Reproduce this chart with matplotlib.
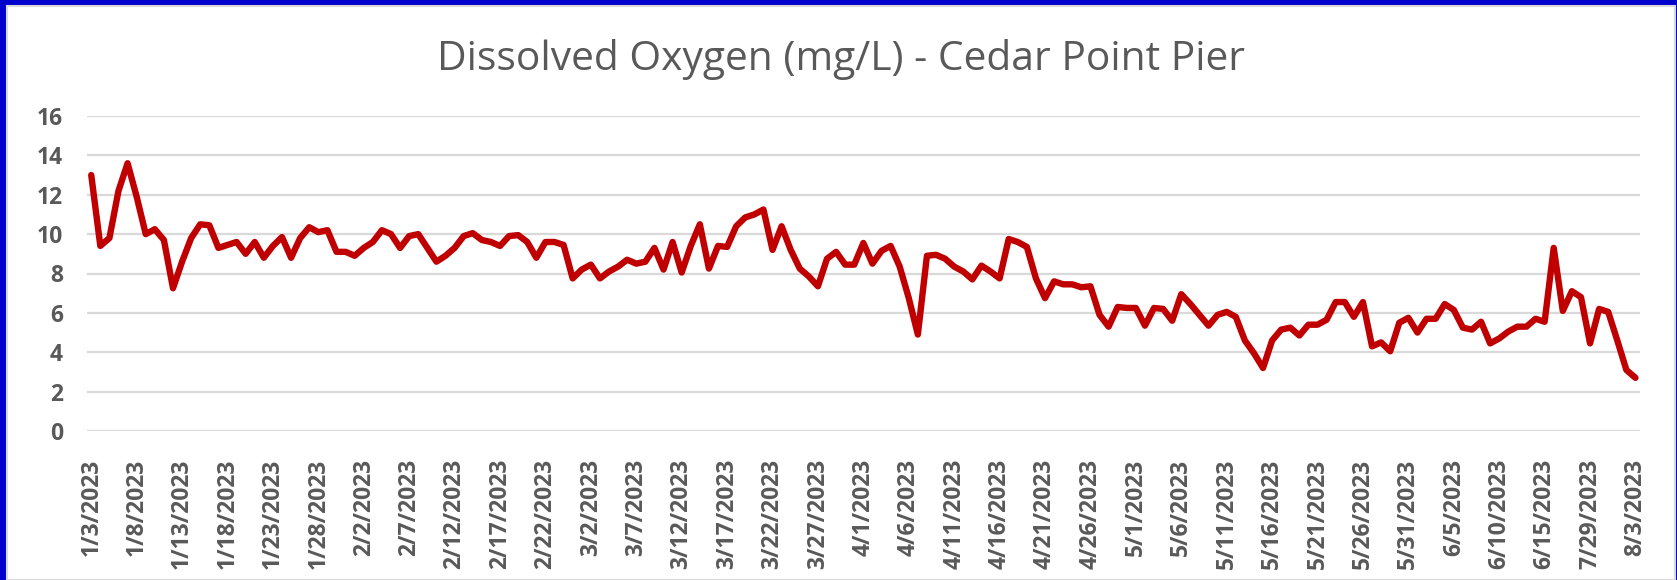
import matplotlib
matplotlib.use("Agg")
import matplotlib.pyplot as plt
from matplotlib.patches import Rectangle
import numpy as np

# tick labels (every 5th category on the axis)
date_labels = ["1/3/2023", "1/8/2023", "1/13/2023", "1/18/2023", "1/23/2023",
               "1/28/2023", "2/2/2023", "2/7/2023", "2/12/2023", "2/17/2023",
               "2/22/2023", "3/2/2023", "3/7/2023", "3/12/2023", "3/17/2023",
               "3/22/2023", "3/27/2023", "4/1/2023", "4/6/2023", "4/11/2023",
               "4/16/2023", "4/21/2023", "4/26/2023", "5/1/2023", "5/6/2023",
               "5/11/2023", "5/16/2023", "5/21/2023", "5/26/2023", "5/31/2023",
               "6/5/2023", "6/10/2023", "6/15/2023", "7/29/2023", "8/3/2023"]

# dissolved oxygen readings (mg/L), one per sample
do_jan_feb = [13.0, 9.4, 9.8, 12.2, 13.6, 11.9, 10.0, 10.25, 9.7, 7.25,
              8.6, 9.8, 10.5, 10.45, 9.3, 9.45, 9.6, 9.0, 9.6, 8.8,
              9.4, 9.85, 8.8, 9.8, 10.35, 10.1, 10.2, 9.1, 9.1, 8.9,
              9.3, 9.6, 10.2, 10.0]
do_feb_mar = [9.3, 9.9, 10.0, 9.3, 8.6, 8.9, 9.3, 9.9, 10.05, 9.7,
              9.6, 9.4, 9.9, 9.95, 9.6, 8.8, 9.6, 9.6, 9.45, 7.75,
              8.2, 8.45, 7.75, 8.1, 8.35, 8.7, 8.5, 8.6, 9.3, 8.2,
              9.6, 8.05, 9.4]
do_mar_apr = [10.5, 8.25, 9.4, 9.35, 10.4, 10.85, 11.0, 11.25, 9.2, 10.4,
              9.2, 8.25, 7.85, 7.35, 8.75, 9.1, 8.45, 8.45, 9.55, 8.5,
              9.15, 9.4, 8.35, 6.75, 4.9, 8.9, 8.95, 8.75, 8.35, 8.1,
              7.7, 8.4, 8.1, 7.75, 9.75]
do_apr_may = [9.6, 9.35, 7.75, 6.75, 7.6, 7.45, 7.45, 7.3, 7.35, 5.9,
              5.3, 6.3, 6.25, 6.25, 5.35, 6.25, 6.2, 5.6, 6.95, 6.45,
              5.9, 5.35, 5.9, 6.05, 5.8, 4.6, 3.95, 3.2, 4.6, 5.15,
              5.25, 4.85, 5.4, 5.4]
do_may_aug = [5.65, 6.55, 6.55, 5.8, 6.55, 4.3, 4.5, 4.05, 5.5, 5.75,
              5.0, 5.7, 5.7, 6.45, 6.15, 5.25, 5.15, 5.55, 4.45, 4.7,
              5.05, 5.3, 5.3, 5.7, 5.55, 9.3, 6.1, 7.1, 6.8, 4.45,
              6.2, 6.05, 4.6, 3.1, 2.7]

values = np.array(do_jan_feb + do_feb_mar + do_mar_apr + do_apr_may + do_may_aug)
x = np.arange(len(values))

W, H = 1677, 580
fig = plt.figure(figsize=(W / 100, H / 100), dpi=100, facecolor="#0000CC")

# white chart area inside the blue frame
fig.patches.append(Rectangle((7 / W, 0), (1675 - 7) / W, (H - 6) / H,
                             transform=fig.transFigure, facecolor="white",
                             edgecolor="#D9D9D9", linewidth=1.5, zorder=-1))

ax = fig.add_axes([86.7 / W, 1 - 431 / H, (1640 - 86.7) / W, (431 - 116) / H])
ax.set_facecolor("none")

ax.plot(x, values, color="#C00000", linewidth=4.6, solid_joinstyle="round",
        solid_capstyle="round", zorder=3)

ax.set_ylim(0, 16)
ax.set_yticks(np.arange(0, 17, 2))
ax.set_xlim(-0.5, len(values) - 0.5)
ax.set_xticks(np.arange(0, len(values), 5))
ax.set_xticklabels(date_labels, rotation=90)

ax.grid(axis="y", color="#D9D9D9", linewidth=1.6)
ax.set_axisbelow(True)
for s in ax.spines.values():
    s.set_visible(False)

ax.tick_params(axis="both", length=0, labelcolor="#595959")
ax.tick_params(axis="y", pad=17)
ax.tick_params(axis="x", pad=20)
for lab in ax.get_yticklabels() + ax.get_xticklabels():
    lab.set_fontsize(16.5)
    lab.set_fontweight("bold")
    lab.set_family("Open Sans")

fig.text(841 / W, 1 - 60 / H, "Dissolved Oxygen (mg/L) - Cedar Point Pier",
         ha="center", va="center", fontsize=29.3, color="#595959",
         family="Open Sans")

fig.savefig("out.png", dpi=100, facecolor=fig.get_facecolor())
